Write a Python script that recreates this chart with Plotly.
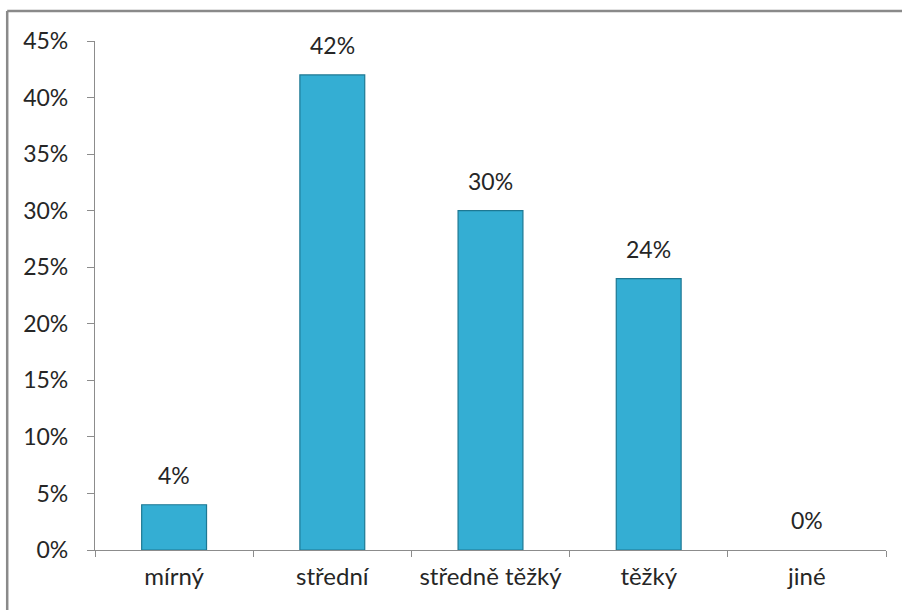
import plotly.graph_objects as go

categories = ["mírný", "střední", "středně těžký", "těžký", "jiné"]
values = [4, 42, 30, 24, 0]
value_labels = ["4%", "42%", "30%", "24%", "0%"]
y_ticks = [0, 5, 10, 15, 20, 25, 30, 35, 40, 45]
y_tick_labels = ["0%", "5%", "10%", "15%", "20%", "25%", "30%", "35%", "40%", "45%"]

FONT = "Lato, 'Open Sans', sans-serif"
TXT = "#262626"
AX = "#8c8c8c"

fig = go.Figure()
fig.add_trace(go.Bar(
    x=categories, y=values, width=0.41,
    marker=dict(color="#34aed3",
                line=dict(color="#1d7893", width=[1.2 if v > 0 else 0 for v in values])),
    hoverinfo="skip",
))

for c, v, t in zip(categories, values, value_labels):
    fig.add_annotation(x=c, y=v, text=t, showarrow=False, yanchor="bottom",
                       yshift=14, font=dict(family=FONT, size=23, color=TXT))

# outer frame: only top and left edges are visible in the reference
fig.add_shape(type="line", xref="paper", yref="paper",
              x0=-0.111, x1=1.03, y0=1.059, y1=1.059,
              line=dict(color="#8a8a8a", width=2.5))
fig.add_shape(type="line", xref="paper", yref="paper",
              x0=-0.111, x1=-0.111, y0=-0.13, y1=1.059,
              line=dict(color="#8a8a8a", width=2.5))

fig.update_layout(
    width=902, height=610,
    margin=dict(l=95, r=16, t=41, b=60),
    paper_bgcolor="white", plot_bgcolor="white",
    showlegend=False, bargap=0.59,
    font=dict(family=FONT, size=22, color=TXT),
    xaxis=dict(showline=True, linecolor=AX, linewidth=1.3, ticks="outside",
               tickson="boundaries", ticklen=6, tickcolor=AX, tickwidth=1.3,
               showgrid=False, tickfont=dict(family=FONT, size=24, color=TXT),
               ticklabelstandoff=5, automargin=False),
    yaxis=dict(range=[0, 45], tickvals=y_ticks, ticktext=y_tick_labels,
               showline=True, linecolor=AX, linewidth=1.3, ticks="outside",
               ticklen=7, tickcolor=AX, tickwidth=1.3, showgrid=False,
               zeroline=False, tickfont=dict(family=FONT, size=23, color=TXT),
               ticklabelstandoff=14, automargin=False),
)

fig.write_html(
    "out.html",
    config={"displayModeBar": False},
    post_script="document.body.style.margin='0';document.body.style.overflow='hidden';",
)
